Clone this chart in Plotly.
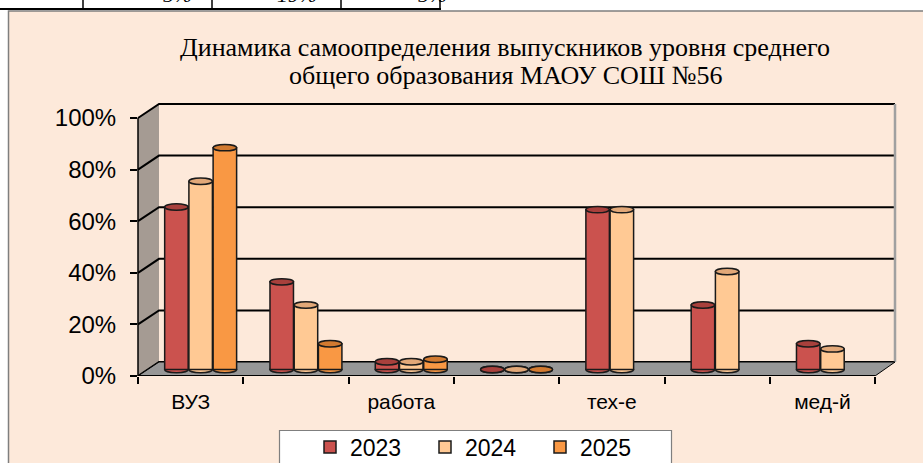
import numpy as np
import plotly.graph_objects as go

# ---------------- data ----------------
tick_labels = ["ВУЗ", "", "работа", "", "тех-е", "", "мед-й"]
years = ["2023", "2024", "2025"]
v2023 = [0.63, 0.34, 0.03, 0.0, 0.62, 0.25, 0.10]
v2024 = [0.73, 0.25, 0.03, 0.0, 0.62, 0.38, 0.08]
v2025 = [0.86, 0.10, 0.04, 0.0, None, None, None]
y_ticks = [0, 0.2, 0.4, 0.6, 0.8, 1.0]
y_ticktext = ["0%", "20%", "40%", "60%", "80%", "100%"]
table_texts = ["5%", "19%", "5%"]
title_lines = ["Динамика самоопределения выпускников уровня среднего",
               "общего образования МАОУ СОШ №56"]

colors = ["#CB524E", "#FFC994", "#F99844"]
cap_colors = ["#A8403C", "#E2A878", "#D27A30"]
series = [v2023, v2024, v2025]

# ---------------- geometry ----------------
W, H = 923, 463
L, R, T, B = 138, 28, 102, 87
PW, PH = W - L - R, H - T - B
CAT_PX = 105.3
Y_PX = 258.0
YMAX = PH / Y_PX
x_range = [-0.5, -0.5 + PW / CAT_PX]
depth_y = 14 / Y_PX
depth_xp = 21 / PW
bar_shift = 10 / CAT_PX
bar_base = 0.025
bar_w = 0.23
cap_h = 3.2 / Y_PX

def pxp(x):  # pixel -> paper x
    return (x - L) / PW

def pyp(y):  # pixel -> paper y
    return (H - B - y) / PH

idx = np.arange(len(tick_labels))
fig = go.Figure()
shapes = []

# page / chart area
shapes.append(dict(type="rect", xref="paper", yref="paper", x0=pxp(8.5), x1=pxp(930),
                   y0=pyp(11), y1=pyp(470), fillcolor="#FDE9DA",
                   line=dict(color="#7F7F7F", width=1.5), layer="below"))
# legend box
shapes.append(dict(type="rect", xref="paper", yref="paper", x0=pxp(279.5), x1=pxp(671.5),
                   y0=pyp(430.5), y1=pyp(475), fillcolor="white",
                   line=dict(color="#7F7F7F", width=1.2), layer="below"))
# table remnant at the top
shapes.append(dict(type="line", xref="paper", yref="paper", x0=pxp(0), x1=pxp(441),
                   y0=pyp(9), y1=pyp(9), line=dict(color="black", width=2), layer="above"))
for xv in [83, 212, 341, 440]:
    shapes.append(dict(type="line", xref="paper", yref="paper", x0=pxp(xv), x1=pxp(xv),
                       y0=pyp(-2), y1=pyp(9), line=dict(color="black", width=1.5), layer="above"))

# left wall
shapes.append(dict(type="path", xref="paper", yref="y",
                   path=f"M 0,0 L 0,{y_ticks[-1]} L {depth_xp},{y_ticks[-1]+depth_y} L {depth_xp},{depth_y} Z",
                   fillcolor="#A59B93", line=dict(width=0), layer="below"))
# back-wall gridlines + left-wall diagonals
for v in y_ticks:
    shapes.append(dict(type="path", xref="paper", yref="y",
                       path=f"M 0,{v} L {depth_xp},{v+depth_y} L 1,{v+depth_y}",
                       line=dict(color="black", width=2), layer="below"))
# right back edge
shapes.append(dict(type="line", xref="paper", yref="y", x0=1, x1=1, y0=depth_y, y1=y_ticks[-1] + depth_y,
                   line=dict(color="#A0A0A0", width=2.5), layer="below"))
# floor
front_right = pxp(875)
shapes.append(dict(type="path", xref="paper", yref="y",
                   path=f"M 0,0 L {depth_xp},{depth_y} L 1,{depth_y} L {front_right},0 Z",
                   fillcolor="#979797", line=dict(color="black", width=1), layer="below"))
# front axis lines
shapes.append(dict(type="line", xref="paper", yref="y", x0=0, x1=front_right, y0=0, y1=0,
                   line=dict(color="black", width=2), layer="below"))
shapes.append(dict(type="line", xref="paper", yref="y", x0=0, x1=0, y0=0, y1=y_ticks[-1],
                   line=dict(color="black", width=1.5), layer="below"))

# bars
for k, (name, vals, col, capc) in enumerate(zip(years, series, colors, cap_colors)):
    xs = idx + bar_shift + (k - 1) * bar_w
    fig.add_trace(go.Bar(
        x=xs, y=vals, base=bar_base, width=bar_w * 0.97, name=name,
        marker=dict(color=col, line=dict(color="#1A1A1A", width=1.5)),
    ))
    for xc, v in zip(xs, vals):
        if v is None:
            continue
        hw = bar_w * 0.97 / 2
        # rounded bottom (under bar)
        shapes.append(dict(type="circle", xref="x", yref="y", x0=xc - hw, x1=xc + hw,
                           y0=bar_base - cap_h, y1=bar_base + cap_h, fillcolor=col,
                           line=dict(color="#1A1A1A", width=1.5), layer="below"))
        # top cap
        shapes.append(dict(type="circle", xref="x", yref="y", x0=xc - hw, x1=xc + hw,
                           y0=bar_base + v - cap_h, y1=bar_base + v + cap_h, fillcolor=capc,
                           line=dict(color="#1A1A1A", width=1.5), layer="above"))

annotations = []
for xt, t in zip([177, 297, 432], table_texts):
    annotations.append(dict(xref="paper", yref="paper", x=pxp(xt), y=pyp(9), text=f"<i>{t}</i>",
                            showarrow=False, xanchor="center", yanchor="bottom",
                            font=dict(family="Liberation Serif", size=22, color="black")))
# chart title (two lines, tight line spacing as in the reference)
for yc, line in zip([48, 75], title_lines):
    annotations.append(dict(xref="paper", yref="paper", x=pxp(505), y=pyp(yc), text=line,
                            showarrow=False, xanchor="center", yanchor="middle",
                            font=dict(family="Liberation Serif", size=26, color="black")))

fig.update_layout(
    width=W, height=H,
    margin=dict(l=L, r=R, t=T, b=B, pad=0, autoexpand=False),
    paper_bgcolor="white", plot_bgcolor="rgba(0,0,0,0)",
    barmode="overlay",
    showlegend=True,
    xaxis=dict(range=x_range, tickmode="array", tickvals=idx, ticktext=tick_labels,
               showgrid=False, zeroline=False, showline=False, ticks="",
               tickfont=dict(family="Arial", size=21, color="black"),
               ticklabelstandoff=11,
               minor=dict(tickmode="array", tickvals=[i - 0.5 for i in range(len(tick_labels) + 1)],
                          ticks="outside", ticklen=7, tickwidth=1.5, tickcolor="black", showgrid=False)),
    yaxis=dict(range=[0, YMAX], tickmode="array", tickvals=y_ticks, ticktext=y_ticktext,
               showgrid=False, zeroline=False, showline=False, ticks="outside",
               ticklen=7, tickwidth=1.5, tickcolor="black",
               tickfont=dict(family="Arial", size=24, color="black"), ticklabelstandoff=9),
    legend=dict(orientation="h", xanchor="left", x=pxp(310), yanchor="middle", y=pyp(447),
                bgcolor="rgba(0,0,0,0)", borderwidth=0,
                font=dict(family="Arial", size=23, color="black"),
                itemwidth=30, entrywidth=70, traceorder="normal"),
    shapes=shapes,
    annotations=annotations,
)

fig.write_html("out.html", config={"displayModeBar": False},
               post_script="document.body.style.margin='0px';document.body.style.overflow='hidden';")
